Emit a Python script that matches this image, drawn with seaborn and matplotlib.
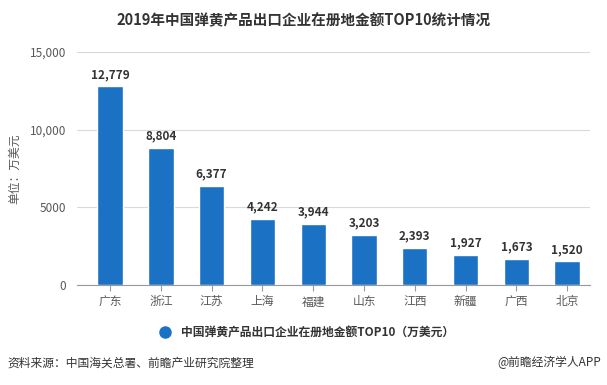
import matplotlib
matplotlib.use("Agg")
import matplotlib.pyplot as plt
import seaborn as sns
import pandas as pd
from matplotlib.lines import Line2D

# data
regions = ["广东", "浙江", "江苏", "上海", "福建", "山东", "江西", "新疆", "广西", "北京"]
amounts = [12779, 8804, 6377, 4242, 3944, 3203, 2393, 1927, 1673, 1520]
yticks = [0, 5000, 10000, 15000]
ytick_labels = ["0", "5000", "10,000", "15,000"]

sns.set_style("white")
plt.rcParams['font.family'] = ['Noto Sans CJK SC', 'DejaVu Sans']

df = pd.DataFrame({"region": regions, "amount": amounts})

fig = plt.figure(figsize=(6.07, 3.85), dpi=100)
ax = fig.add_axes([0.127, 0.26, 0.845, 0.605])

bar_color = "#1b72c4"
sns.barplot(data=df, x="region", y="amount", color=bar_color, width=0.5,
            saturation=1, ax=ax, zorder=3)

for i, v in enumerate(amounts):
    ax.text(i, v + 350, f"{v:,}", ha="center", va="bottom", fontsize=8.5,
            fontweight="bold", color="#333333")

ax.set_ylim(0, 15000)
ax.set_xlim(-0.65, 9.45)
ax.set_yticks(yticks)
ax.set_yticklabels(ytick_labels)
ax.grid(axis="y", color="#d9d9d9", linewidth=0.8, zorder=0)
for s in ["top", "right", "left"]:
    ax.spines[s].set_visible(False)
ax.spines["bottom"].set_color("#999999")
ax.tick_params(axis="y", length=0, labelsize=8.5, labelcolor="#595959", pad=8)
ax.tick_params(axis="x", length=4, color="#999999", labelsize=8.5,
               labelcolor="#595959", bottom=True)
ax.set_xlabel("")
ax.set_ylabel("单位：万美元", fontsize=8.5, color="#595959", labelpad=6)

fig.suptitle("2019年中国弹黄产品出口企业在册地金额TOP10统计情况", x=0.5, y=0.967,
             fontsize=10.5, fontweight="bold", color="#333333")

handle = Line2D([], [], marker="o", linestyle="none", markersize=8,
                markerfacecolor=bar_color, markeredgecolor=bar_color)
fig.legend([handle], ["中国弹黄产品出口企业在册地金额TOP10（万美元）"],
           loc="center", bbox_to_anchor=(0.5, 0.135), frameon=False,
           prop={"size": 8.5, "weight": "bold"}, labelcolor="#333333",
           handletextpad=0.3)

fig.text(0.012, 0.058, "资料来源：中国海关总署、前瞻产业研究院整理", fontsize=8.5,
         color="#333333", va="center")
fig.text(0.99, 0.058, "@前瞻经济学人APP", fontsize=8.5, color="#333333",
         va="center", ha="right")

fig.savefig("out.png", dpi=100)
